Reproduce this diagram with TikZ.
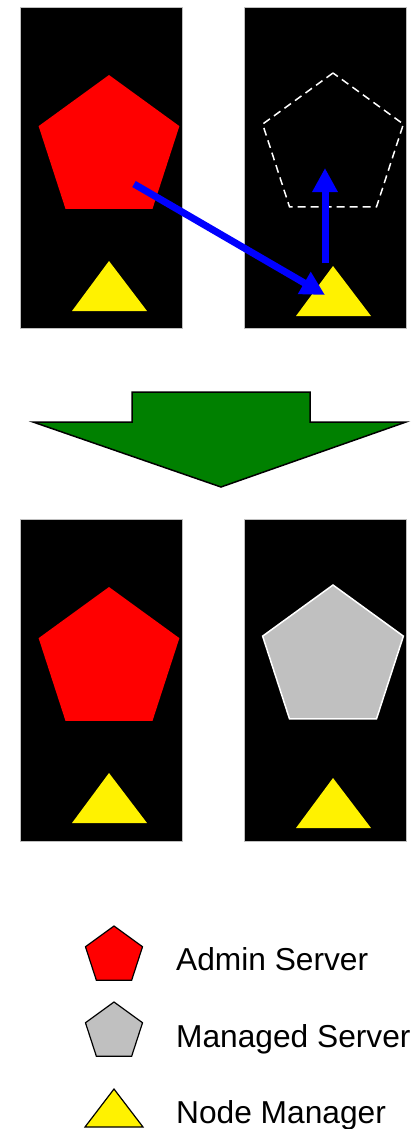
\documentclass[tikz,border=0pt]{standalone}
\usepackage{fontspec}
\setmainfont{Liberation Sans}
\usetikzlibrary{shapes.geometric,arrows.meta}
\definecolor{dgreen}{RGB}{0,128,0}
\definecolor{srvgray}{RGB}{192,192,192}
\definecolor{arrblue}{RGB}{0,0,255}
\tikzset{
  panel/.style={fill=black,draw=gray!50,line width=0.6pt},
  pent/.style={regular polygon,regular polygon sides=5,inner sep=0pt,minimum size=148pt},
  lpent/.style={regular polygon,regular polygon sides=5,inner sep=0pt,minimum size=60pt,draw=black,line width=1.2pt},
  nmtri/.style={fill=yellow},
  moveline/.style={draw=arrblue,line width=7pt,-{Triangle[length=24pt,width=24pt]}},
  legtext/.style={anchor=base west,inner sep=0pt,font=\fontsize{31.7}{38}\selectfont}
}
\begin{document}
\begin{tikzpicture}[x=1pt,y=-1pt]
\useasboundingbox (0,0) rectangle (414,1129);
% top panels
\path[panel] (20,7) rectangle (182,328);
\path[panel] (244,7) rectangle (406,328);
\node[pent,fill=red] (adm1) at (109,149) {};
\node[pent,draw=white,line width=1.5pt,dash pattern=on 8pt off 5pt] (ghost) at (333,147) {};
\fill[nmtri] (72,311) -- (109,261) -- (147,311) -- cycle;
\fill[nmtri] (296,316) -- (333,266) -- (371,316) -- cycle;
\coordinate (a1s) at (134,184);
\coordinate (a1e) at (325,295);
\coordinate (a2s) at (325,263);
\coordinate (a2e) at (325,168);
\draw[moveline] (a1s) -- (a1e);
\draw[moveline] (a2s) -- (a2e);
% green arrow
\draw[fill=dgreen,draw=black,line width=1.5pt,line join=miter]
  (132,392) -- (310,392) -- (310,422) -- (406,422) -- (221,487) -- (33,422) -- (132,422) -- cycle;
% bottom panels
\path[panel] (20,519) rectangle (182,841);
\path[panel] (244,519) rectangle (406,841);
\node[pent,fill=red] (adm2) at (109,661) {};
\node[pent,fill=srvgray,draw=white,line width=1.5pt] (msrv) at (333,659) {};
\fill[nmtri] (72,823) -- (109,773) -- (147,823) -- cycle;
\fill[nmtri] (296,828) -- (333,778) -- (371,828) -- cycle;
% legend
\node[lpent,fill=red] (lgadm) at (114,956) {};
\node[lpent,fill=srvgray] (lgms) at (114,1032) {};
\draw[fill=yellow,draw=black,line width=1.2pt] (85,1127) -- (114,1089) -- (143,1127) -- cycle;
\node[legtext] (tadm) at (176,970) {Admin Server};
\node[legtext] (tms) at (176,1047) {Managed Server};
\node[legtext] (tnm) at (176,1123) {Node Manager};
\end{tikzpicture}
\end{document}
